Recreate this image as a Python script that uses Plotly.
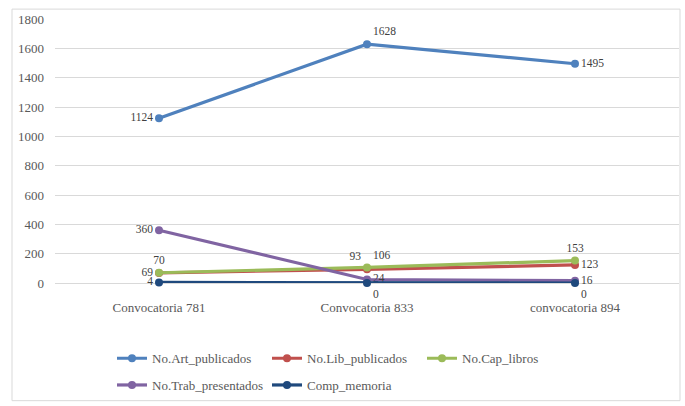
import plotly.graph_objects as go

categories = ["Convocatoria 781", "Convocatoria 833", "convocatoria 894"]
series_names = ["No.Art_publicados", "No.Lib_publicados", "No.Cap_libros",
                "No.Trab_presentados", "Comp_memoria"]
art = [1124, 1628, 1495]
lib = [69, 93, 123]
cap = [70, 106, 153]
trab = [360, 24, 16]
comp = [4, 0, 0]
y_ticks = [0, 200, 400, 600, 800, 1000, 1200, 1400, 1600, 1800]

colors = ["#4F81BD", "#C0504D", "#9BBB59", "#8064A2", "#1F497D"]
text_pos = [
    ["middle left", "top right", "middle right"],
    ["middle left", "top left", "middle right"],
    ["top center", "top right", "top center"],
    ["middle left", "middle right", "middle right"],
    ["middle left", "bottom right", "bottom right"],
]
legends = ["legend", "legend", "legend", "legend2", "legend2"]
values = [art, lib, cap, trab, comp]

FONT = "Liberation Serif"
fig = go.Figure()
for name, vals, col, tp, lg in zip(series_names, values, colors, text_pos, legends):
    fig.add_trace(go.Scatter(
        x=categories, y=vals, name=name, mode="lines+markers+text",
        line=dict(color=col, width=3.2), marker=dict(color=col, size=8),
        text=[str(v) for v in vals], textposition=tp,
        textfont=dict(family=FONT, size=11.5, color="#404040"),
        legend=lg, cliponaxis=False,
    ))

L, R, T, B = 55, 6, 19, 120
W, H = 685, 406
pw = W - L - R
ph = H - T - B

def px(xpix):
    return (xpix - L) / pw

def py(ypix):
    return (H - B - ypix) / ph

leg_common = dict(orientation="h", xanchor="left", yanchor="top",
                  font=dict(family=FONT, size=13, color="#595959"),
                  entrywidth=110, bgcolor="rgba(0,0,0,0)", itemwidth=30,
                  traceorder="normal")

fig.update_layout(
    width=W, height=H,
    margin=dict(l=L, r=R, t=T, b=B),
    paper_bgcolor="white", plot_bgcolor="white",
    showlegend=True,
    legend=dict(x=px(112), y=py(347), **leg_common),
    legend2=dict(x=px(112), y=py(374), **leg_common),
    xaxis=dict(showgrid=False, showline=False, ticks="",
               tickfont=dict(family=FONT, size=13, color="#595959"),
               range=[-0.5, 2.5], zeroline=False, ticklabelstandoff=15),
    yaxis=dict(range=[0, 1800], tickvals=y_ticks, showgrid=True,
               gridcolor="#D9D9D9", gridwidth=1, zeroline=True,
               zerolinecolor="#D9D9D9", zerolinewidth=1,
               tickfont=dict(family=FONT, size=13, color="#595959"),
               ticks="", ticklabelstandoff=10, showline=False),
    shapes=[dict(type="rect", xref="paper", yref="paper",
                 x0=px(12), x1=px(680), y0=py(405), y1=py(9),
                 line=dict(color="#D9D9D9", width=1), layer="below")],
)

fig.write_html("out.html")
